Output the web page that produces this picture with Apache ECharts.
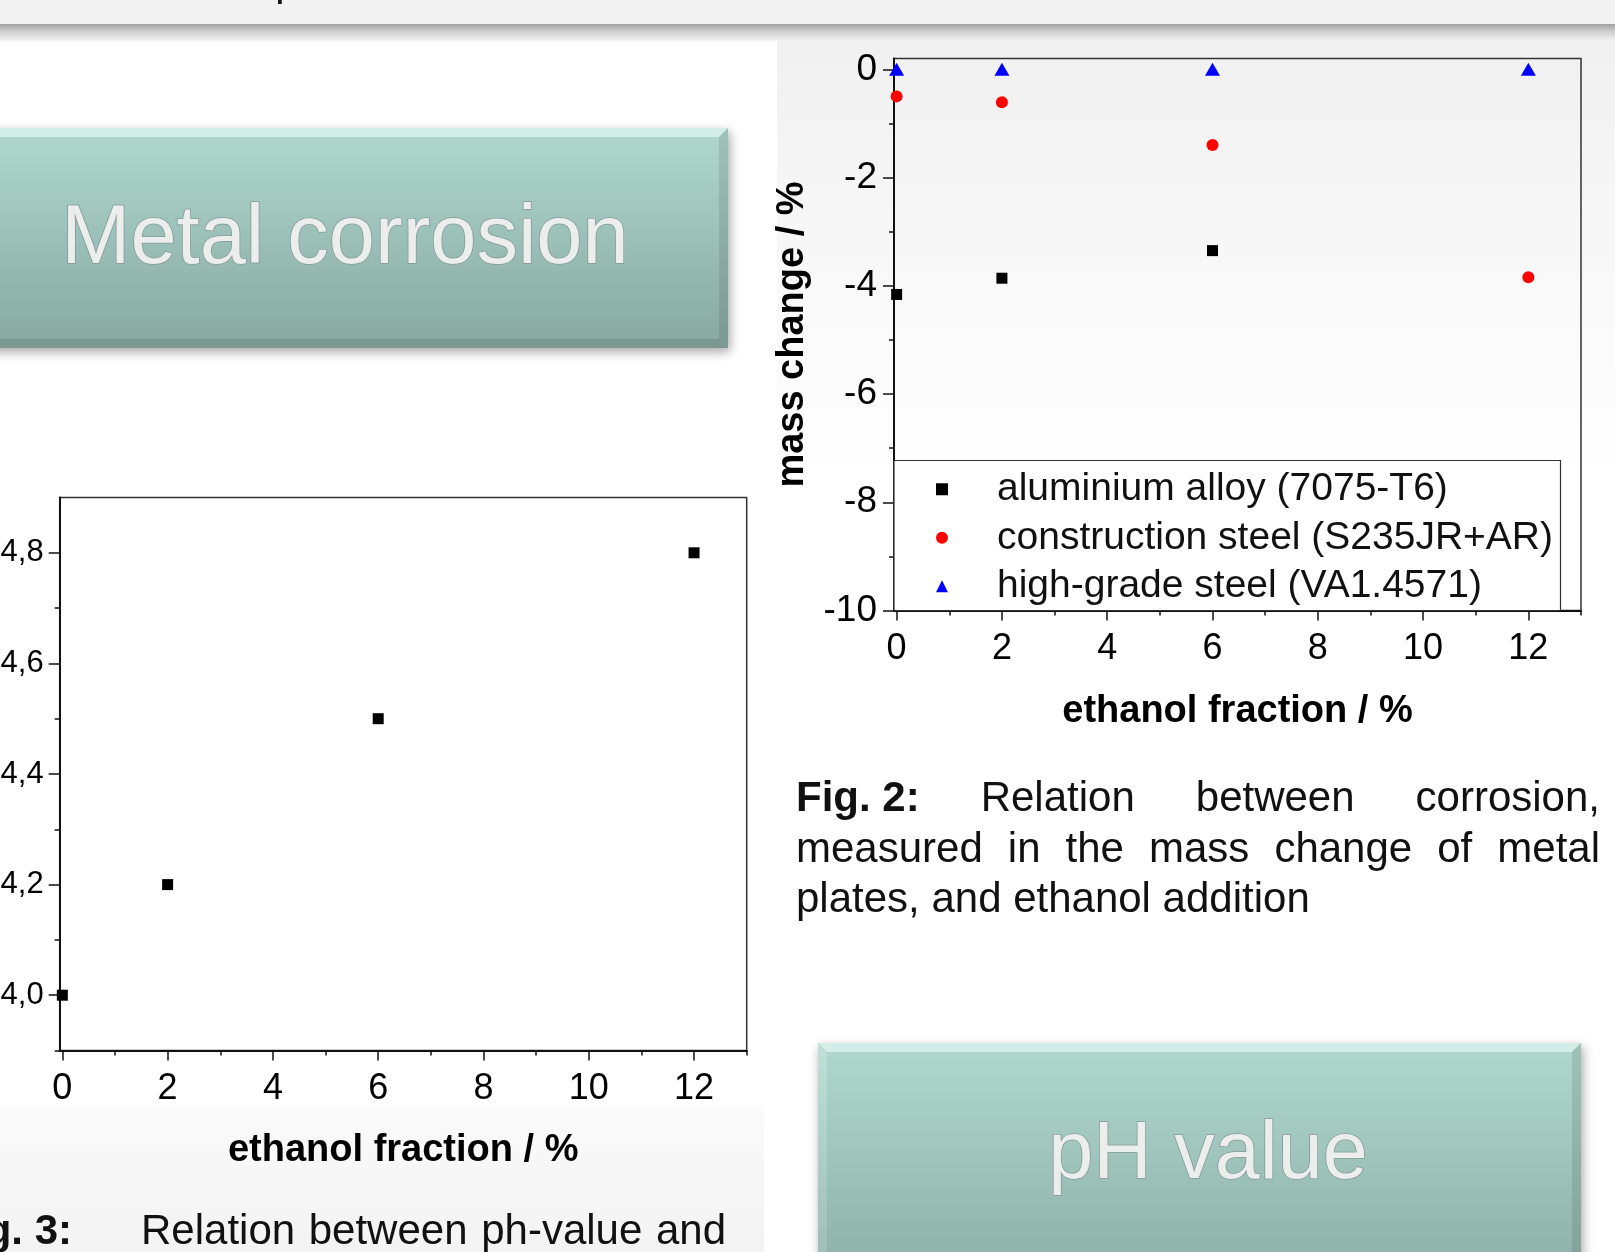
<!DOCTYPE html>
<html>
<head>
<meta charset="utf-8">
<script src="https://cdn.jsdelivr.net/npm/echarts@6/dist/echarts.min.js"></script>
<style>
html,body{margin:0;padding:0;background:#fff;}
#main{width:1615px;height:1252px;}
</style>
</head>
<body>
<div id="main"></div>
<script>
// ---- data ----
const ethanolFraction = [0, 2, 6, 12];
const seriesNames = ['aluminium alloy (7075-T6)', 'construction steel (S235JR+AR)', 'high-grade steel (VA1.4571)'];
const aluminiumMass = [-4.16, -3.86, -3.35, null];
const constructionMass = [-0.50, -0.61, -1.40, -3.84];
const highGradeMass = [0, 0, 0, 0];
const phValues = [4.0, 4.2, 4.5, 4.8];

// ---- tick labels ----
const fracTicks = [0, 2, 4, 6, 8, 10, 12];
const fracMinorTicks = [1, 3, 5, 7, 9, 11, 13];
const massTicks = [-10, -8, -6, -4, -2, 0];
const massMinorTicks = [-9, -7, -5, -3, -1];
const phTicks = [4.0, 4.2, 4.4, 4.6, 4.8];
const phMinorTicks = [3.9, 4.1, 4.3, 4.5, 4.7];

// ---- texts ----
const boxTitle1 = 'Metal corrosion';
const boxTitle2 = 'pH value';
const fig2Label = 'Fig. 2:';
const fig2Lines = ['Relation between corrosion,', 'measured in the mass change of metal', 'plates, and ethanol addition'];
const fig3Label = 'Fig. 3:';
const fig3Line = 'Relation between ph-value and';
const xTitle = 'ethanol fraction / %';
const yTitle = 'mass change / %';

const FONT = 'Liberation Sans';
const pairs = (xs, ys) => xs.map((x, i) => [x, ys[i]]).filter(p => p[1] !== null);

const mctx = document.createElement('canvas').getContext('2d');
function tw(text, size, bold) {
  mctx.font = (bold ? 'bold ' : '') + size + 'px "' + FONT + '"';
  return mctx.measureText(text).width;
}
function txt(t, x, y, size, bold, align) {
  return {type: 'text', x: x, y: y, z: 20, silent: true,
    style: {text: t, fontSize: size, fontFamily: FONT, fontWeight: bold ? 'bold' : 'normal',
      fill: '#111', align: align || 'left', textAlign: align || 'left',
      verticalAlign: 'middle', textVerticalAlign: 'middle'}};
}
function justify(words, x0, x1, y, size) {
  const ws = words.map(w => tw(w.t, size, w.bold));
  const total = ws.reduce((a, b) => a + b, 0);
  const gap = (x1 - x0 - total) / (words.length - 1);
  const out = [];
  let x = x0;
  words.forEach((w, i) => { out.push(txt(w.t, x, y, size, w.bold, 'left')); x += ws[i] + gap; });
  return out;
}
function bevelBox(x0, y0, x1, y1, b) {
  return [
    {type: 'rect', z: 5, silent: true, shape: {x: x0, y: y0, width: x1 - x0, height: y1 - y0},
      style: {fill: {type: 'linear', x: 0, y: 0, x2: 0, y2: 1,
        colorStops: [{offset: 0, color: '#b0d8cf'}, {offset: 1, color: '#86a8a0'}]},
        shadowBlur: 10, shadowOffsetX: 2, shadowOffsetY: 4, shadowColor: 'rgba(0,0,0,0.35)'}},
    {type: 'polygon', z: 6, silent: true, shape: {points: [[x0, y0], [x1, y0], [x1 - b, y0 + b], [x0 + b, y0 + b]]},
      style: {fill: '#d3eee8'}},
    {type: 'polygon', z: 6, silent: true, shape: {points: [[x0, y0], [x0 + b, y0 + b], [x0 + b, y1 - b], [x0, y1]]},
      style: {fill: {type: 'linear', x: 0, y: 0, x2: 0, y2: 1,
        colorStops: [{offset: 0, color: '#bfe0d8'}, {offset: 1, color: '#93b5ad'}]}}},
    {type: 'polygon', z: 6, silent: true, shape: {points: [[x1, y0], [x1, y1], [x1 - b, y1 - b], [x1 - b, y0 + b]]},
      style: {fill: {type: 'linear', x: 0, y: 0, x2: 0, y2: 1,
        colorStops: [{offset: 0, color: '#9ec2ba'}, {offset: 1, color: '#7a9891'}]}}},
    {type: 'polygon', z: 6, silent: true, shape: {points: [[x0, y1], [x1, y1], [x1 - b, y1 - b], [x0 + b, y1 - b]]},
      style: {fill: '#7b9992'}}
  ];
}
function boxText(t, x, y, size) {
  return {type: 'text', x: x, y: y, z: 10, silent: true,
    style: {text: t, fontSize: size, fontFamily: FONT, fill: '#eceeee', stroke: '#87999a', lineWidth: 1.6,
      align: 'center', textAlign: 'center', verticalAlign: 'middle', textVerticalAlign: 'middle',
      shadowBlur: 3, shadowColor: 'rgba(0,0,0,0.25)', shadowOffsetY: 2}};
}

const graphics = [
  // page background
  {type: 'rect', z: -20, silent: true, shape: {x: 0, y: 0, width: 1615, height: 1252}, style: {fill: '#ffffff'}},
  {type: 'rect', z: -19, silent: true, shape: {x: 777, y: 24, width: 838, height: 450},
    style: {fill: {type: 'linear', x: 0, y: 0, x2: 0, y2: 1,
      colorStops: [{offset: 0, color: '#f0f0f0'}, {offset: 1, color: '#ffffff'}]}}},
  {type: 'rect', z: -19, silent: true, shape: {x: 0, y: 1107, width: 764, height: 145},
    style: {fill: {type: 'linear', x: 0, y: 0, x2: 0, y2: 1,
      colorStops: [{offset: 0, color: '#fafafa'}, {offset: 1, color: '#f3f3f3'}]}}},
  {type: 'rect', z: -18, silent: true, shape: {x: 0, y: 0, width: 1615, height: 24}, style: {fill: '#f2f2f2'}},
  {type: 'rect', z: -18, silent: true, shape: {x: 0, y: 24, width: 1615, height: 17},
    style: {fill: {type: 'linear', x: 0, y: 0, x2: 0, y2: 1,
      colorStops: [{offset: 0, color: '#a2a2a2'}, {offset: 0.45, color: '#cfcfcf'}, {offset: 1, color: '#f2f2f2'}]}}},
  {type: 'text', x: 287, y: 4, z: 20, silent: true,
    style: {text: 'p', fontSize: 42, fontFamily: FONT, fill: '#111', align: 'center', textAlign: 'center',
      verticalAlign: 'bottom', textVerticalAlign: 'bottom'}},
  // legend frame
  {type: 'rect', z: 1, silent: true, shape: {x: 894, y: 460.5, width: 666.5, height: 150},
    style: {fill: '#ffffff', stroke: '#333', lineWidth: 1.2}}
];
graphics.push(...bevelBox(-20, 128, 728, 348, 9));
graphics.push(boxText(boxTitle1, 345, 240, 83));
graphics.push(...bevelBox(818, 1043, 1581, 1320, 9));
graphics.push(boxText(boxTitle2, 1208, 1156, 81));

// captions
const fig2Words1 = [{t: fig2Label, bold: true}].concat(fig2Lines[0].split(' ').map(t => ({t: t, bold: false})));
graphics.push(...justify(fig2Words1, 796, 1600, 799, 42));
graphics.push(...justify(fig2Lines[1].split(' ').map(t => ({t: t, bold: false})), 796, 1600, 850, 42));
graphics.push(txt(fig2Lines[2], 796, 900, 42, false, 'left'));
graphics.push(txt(fig3Label, 72, 1232, 42, true, 'right'));
graphics.push(...justify(fig3Line.split(' ').map(t => ({t: t, bold: false})), 141, 726, 1232, 42));

const axisCol = '#111';
function majorX(grid, labelSize, margin, nameGap) {
  return {type: 'value', gridIndex: grid, position: 'bottom', min: -0.05, max: 13,
    axisLine: {show: true, onZero: false, lineStyle: {color: axisCol, width: 2}},
    axisTick: {show: true, length: 10, customValues: fracTicks, lineStyle: {color: axisCol, width: 1.5}},
    axisLabel: {show: true, customValues: fracTicks, fontSize: labelSize, margin: margin, color: '#000', fontFamily: FONT},
    splitLine: {show: false},
    name: xTitle, nameLocation: 'middle', nameGap: nameGap,
    nameTextStyle: {fontSize: 38, fontWeight: 'bold', color: '#000', fontFamily: FONT, verticalAlign: 'middle'}};
}
function minorAxis(grid, pos, min, max, ticks) {
  return {type: 'value', gridIndex: grid, position: pos, offset: 0, min: min, max: max,
    axisLine: {show: false, onZero: false},
    axisTick: {show: true, length: 5, customValues: ticks, lineStyle: {color: axisCol, width: 1.5}},
    axisLabel: {show: false}, splitLine: {show: false}};
}

const option = {
  animation: false,
  backgroundColor: 'transparent',
  graphic: {elements: graphics},
  grid: [
    {left: 894, top: 58.5, width: 687, height: 552, show: true, borderColor: '#333', borderWidth: 1.5,
      backgroundColor: 'transparent', containLabel: false, outerBoundsMode: 'none'},
    {left: 59.7, top: 497.5, width: 687, height: 553, show: true, borderColor: '#333', borderWidth: 1.5,
      backgroundColor: 'transparent', containLabel: false, outerBoundsMode: 'none'}
  ],
  xAxis: [
    majorX(0, 36, 21, 101),
    minorAxis(0, 'bottom', -0.05, 13, fracMinorTicks),
    majorX(1, 36, 21, 100),
    minorAxis(1, 'bottom', -0.05, 13, fracMinorTicks)
  ],
  yAxis: [
    {type: 'value', gridIndex: 0, position: 'left', min: -10, max: 0.2,
      axisLine: {show: true, onZero: false, lineStyle: {color: axisCol, width: 2}},
      axisTick: {show: true, length: 11, customValues: massTicks, lineStyle: {color: axisCol, width: 1.5}},
      axisLabel: {show: true, customValues: massTicks, fontSize: 37, margin: 17, color: '#000', fontFamily: FONT},
      splitLine: {show: false},
      name: yTitle, nameLocation: 'middle', nameGap: 101,
      nameTextStyle: {fontSize: 38, fontWeight: 'bold', color: '#000', fontFamily: FONT, verticalAlign: 'middle'}},
    minorAxis(0, 'left', -10, 0.2, massMinorTicks),
    {type: 'value', gridIndex: 1, position: 'left', min: 3.9, max: 4.9,
      axisLine: {show: true, onZero: false, lineStyle: {color: axisCol, width: 2}},
      axisTick: {show: true, length: 11, customValues: phTicks, lineStyle: {color: axisCol, width: 1.5}},
      axisLabel: {show: true, customValues: phTicks, fontSize: 31, margin: 16, color: '#000', fontFamily: FONT,
        formatter: v => Number(v).toFixed(1).replace('.', ',')},
      splitLine: {show: false}},
    minorAxis(1, 'left', 3.9, 4.9, phMinorTicks)
  ],
  legend: {
    orient: 'vertical', left: 936, top: 465, padding: 0, itemGap: 0,
    itemWidth: 12, itemHeight: 12, selectedMode: false, z: 5,
    data: [{name: seriesNames[0], icon: 'rect'}, {name: seriesNames[1], icon: 'circle'}, {name: seriesNames[2], icon: 'triangle'}],
    formatter: n => '{g|}' + n,
    textStyle: {fontSize: 39, lineHeight: 48.5, color: '#111', fontFamily: FONT, rich: {g: {width: 44, lineHeight: 48.5}}}
  },
  series: [
    {type: 'scatter', name: seriesNames[0], xAxisIndex: 0, yAxisIndex: 0, symbol: 'rect', symbolSize: 11,
      itemStyle: {color: '#000', opacity: 1}, data: pairs(ethanolFraction, aluminiumMass)},
    {type: 'scatter', name: seriesNames[1], xAxisIndex: 0, yAxisIndex: 0, symbol: 'circle', symbolSize: 12,
      itemStyle: {color: '#ff0000', opacity: 1}, data: pairs(ethanolFraction, constructionMass)},
    {type: 'scatter', name: seriesNames[2], xAxisIndex: 0, yAxisIndex: 0, symbol: 'triangle', symbolSize: [15, 13],
      itemStyle: {color: '#0000ff', opacity: 1}, data: pairs(ethanolFraction, highGradeMass)},
    {type: 'scatter', name: 'pH', xAxisIndex: 2, yAxisIndex: 2, symbol: 'rect', symbolSize: 11,
      itemStyle: {color: '#000', opacity: 1}, data: pairs(ethanolFraction, phValues)}
  ]
};

const chart = echarts.init(document.getElementById('main'), null, {renderer: 'canvas', width: 1615, height: 1252});
chart.setOption(option);
</script>
</body>
</html>
